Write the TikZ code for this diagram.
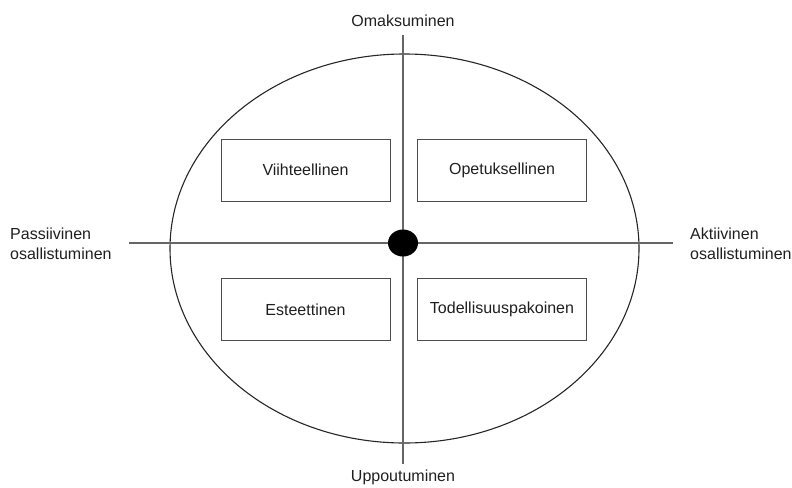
\documentclass[tikz,border=0pt]{standalone}
\usepackage{fontspec}
\setmainfont{Liberation Sans}
\usetikzlibrary{shapes.geometric}
\begin{document}
\begin{tikzpicture}[x=1pt,y=-1pt,
  lbl/.style={font=\fontsize{16}{20}\selectfont, text=black!88, inner sep=0pt},
  box/.style={draw=black!70, line width=1pt, minimum width=169pt, minimum height=62pt, inner sep=0pt, font=\fontsize{16}{20}\selectfont, text=black!88},
  axis/.style={draw=black!60, line width=1.2pt}]
\useasboundingbox (0,0) rectangle (792,487);
\draw[black!85, line width=1.1pt] (404.5,248.5) ellipse [x radius=234.5, y radius=194.5];
\coordinate (top) at (403,35);
\coordinate (bot) at (403,464);
\coordinate (lft) at (129,243);
\coordinate (rgt) at (673,243);
\draw[axis] (top) -- (bot);
\draw[axis] (lft) -- (rgt);
\node[fill=black, ellipse, minimum width=30pt, minimum height=27pt, inner sep=0pt] (dot) at (403,243) {};
\node[box] (v) at (305.5,170) {Viihteellinen};
\node[box] (o) at (502,170) {Opetuksellinen};
\node[box] (e) at (305.5,309.5) {Esteettinen};
\node[box] (t) at (502,309.5) {Todellisuuspakoinen};
\node[lbl, anchor=base] (om) at (403,27) {Omaksuminen};
\node[lbl, anchor=base] (up) at (403,481) {Uppoutuminen};
\node[lbl, anchor=base west, align=left] (pa) at (10,259) {Passiivinen\\osallistuminen};
\node[lbl, anchor=base west, align=left] (ak) at (690,259) {Aktiivinen\\osallistuminen};
\end{tikzpicture}
\end{document}
